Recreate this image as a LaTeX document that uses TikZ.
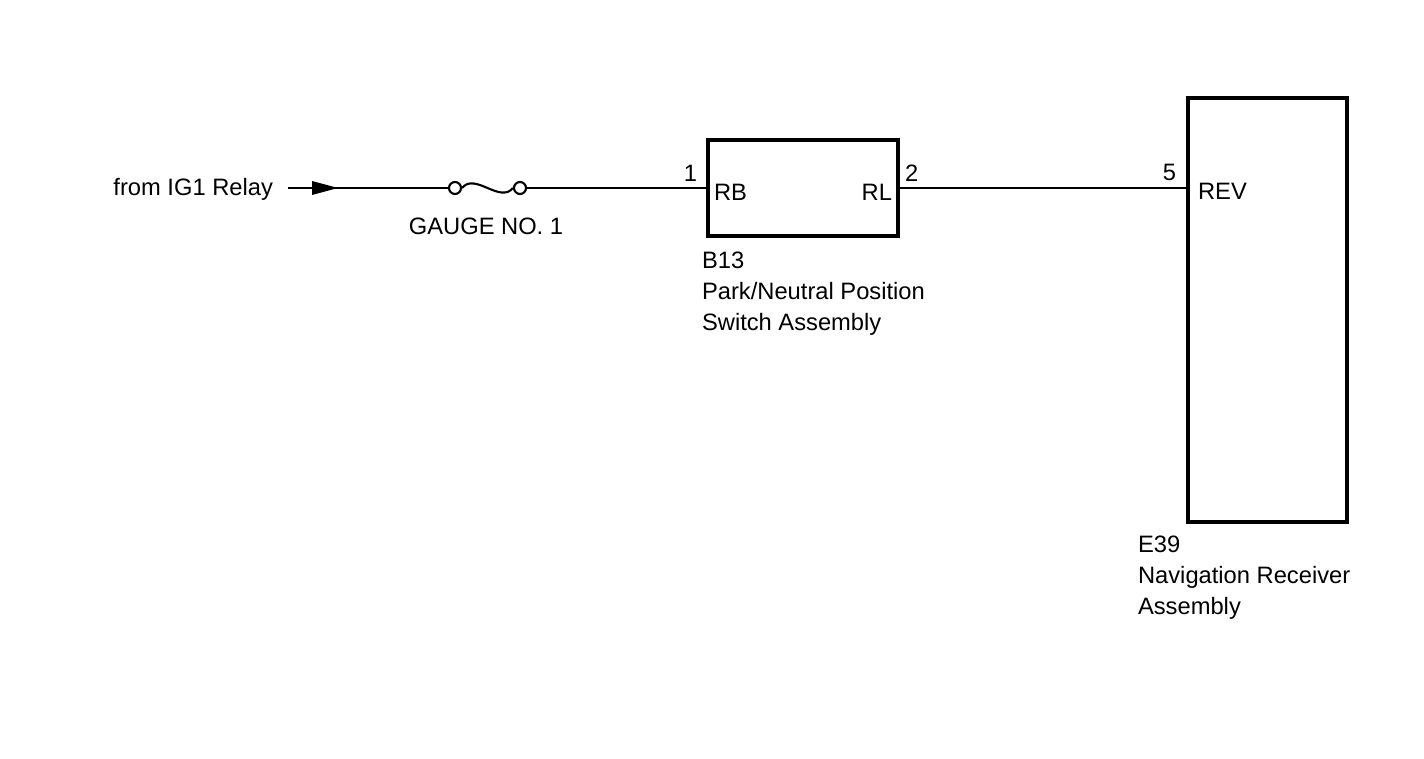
\documentclass[tikz,border=0pt]{standalone}
\usepackage{fontspec}
\setmainfont{Liberation Sans}
\usetikzlibrary{positioning}
\begin{document}
\begin{tikzpicture}[x=0.02cm, y=-0.02cm, line width=1.2pt,
    every node/.style={font=\fontsize{13.5}{16}\selectfont, inner sep=0pt},
    comp/.style={draw, line width=2.4pt, inner sep=0pt},
    lbl/.style={anchor=north west, align=left, font=\fontsize{13.5}{16}\selectfont}]
  \useasboundingbox (0,0) rectangle (1424,759);
  % components
  \node[comp, minimum width=190*0.02cm, minimum height=96*0.02cm] (b13) at (803,188) {};
  \node[comp, minimum width=159*0.02cm, minimum height=424*0.02cm] (e39) at (1267.5,310) {};
  % fuse
  \coordinate (src) at (288,188);
  \node[circle, draw, minimum size=12*0.02cm] (f1) at (455,188) {};
  \node[circle, draw, minimum size=12*0.02cm] (f2) at (520,188) {};
  \draw (f1.east) .. controls (475,172) and (500,204) .. (f2.west);
  % wires
  \draw (src) -- (f1.west);
  \fill (312,181) -- (338,188) -- (312,195) -- cycle;
  \draw (f2.east) -- (b13.west);
  \draw (b13.east) -- (e39.west |- b13.east);
  % texts
  \node[anchor=east] at (274,189) {from IG1 Relay};
  \node[anchor=north] at (486,217) {GAUGE NO. 1};
  \node[anchor=base east] at (698,182) {1};
  \node[anchor=base west] at (713,201) {RB};
  \node[anchor=base east] at (893,201) {RL};
  \node[anchor=base west] at (904,182) {2};
  \node[anchor=base east] at (1177,181) {5};
  \node[anchor=base west] at (1197,200) {REV};
  \node[lbl] at (701,251) {B13\\[1.5pt]Park/Neutral Position\\[1.5pt]Switch Assembly};
  \node[lbl] at (1137,535) {E39\\[1.5pt]Navigation Receiver\\[1.5pt]Assembly};
\end{tikzpicture}
\end{document}
